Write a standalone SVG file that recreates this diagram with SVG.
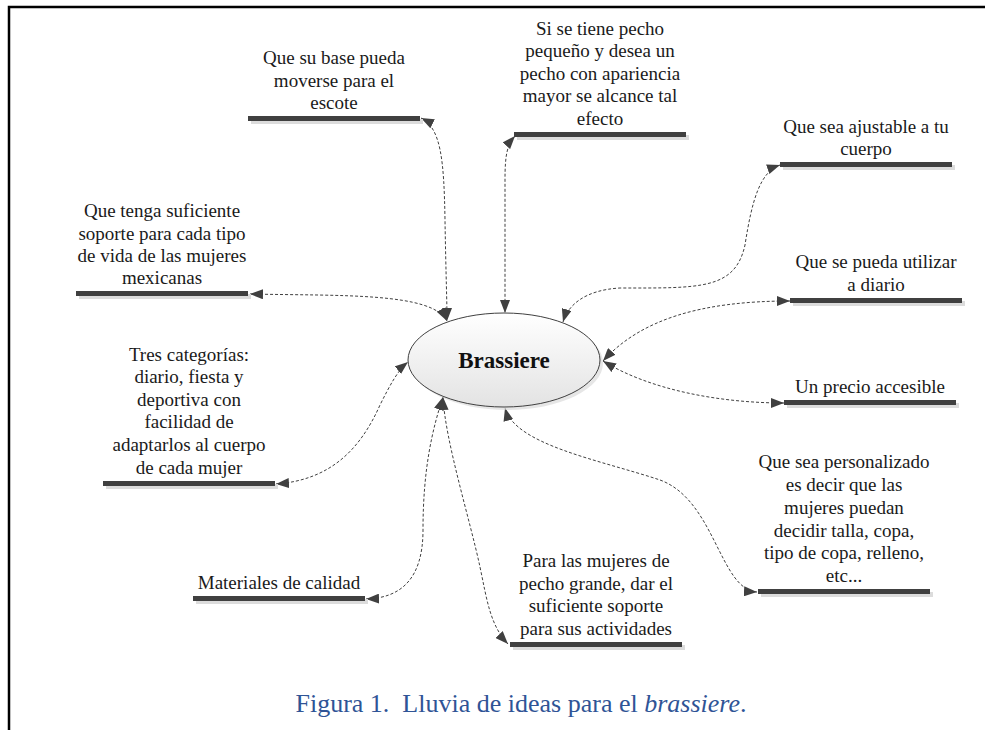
<svg xmlns="http://www.w3.org/2000/svg" width="985" height="730" viewBox="0 0 985 730">
<style>
.t{font-family:"Liberation Serif","Times New Roman",serif;font-size:19px;fill:#1a1a1a;text-anchor:middle}
.bar{fill:#404040}
.sh{fill:#dcdcdc}
.c{fill:none;stroke:#404040;stroke-width:1;stroke-dasharray:3 2;marker-start:url(#ah);marker-end:url(#ah)}
.cap{font-family:"Liberation Serif","Times New Roman",serif;font-size:26px;fill:#2f5496;text-anchor:middle;white-space:pre}
</style>
<defs>
<marker id="ah" viewBox="0 0 13 10" refX="13" refY="5" markerWidth="13" markerHeight="10" markerUnits="userSpaceOnUse" orient="auto-start-reverse">
<path d="M0,0 L13,5 L0,10 z" fill="#404040"/>
</marker>
<linearGradient id="eg" x1="0" y1="0" x2="0" y2="1">
<stop offset="0" stop-color="#ffffff"/>
<stop offset="1" stop-color="#e3e3e3"/>
</linearGradient>
</defs>
<rect width="985" height="730" fill="#ffffff"/>
<path d="M9,730 L9,7 L985,7" fill="none" stroke="#000" stroke-width="2.5"/>

<g id="connectors">
<path class="c" d="M421,118 C441,128 444,160 445,220 C446,280 447,300 447,321"/>
<path class="c" d="M250,294 C340,296 432,292 447,321"/>
<path class="c" d="M515,136 C507,145 505,155 505,180 L505,313"/>
<path class="c" d="M780,165 C760,172 752,200 745,245 C735,290 700,288 620,288 C585,290 568,305 563,322"/>
<path class="c" d="M790,301 C700,301 640,320 603,361"/>
<path class="c" d="M784,403 C720,403 650,390 603,361"/>
<path class="c" d="M276,484 C330,480 360,450 380,405 C390,385 398,370 408,362"/>
<path class="c" d="M366,599 C400,598 423,580 423,530 C423,470 432,430 443,397"/>
<path class="c" d="M508,644 C490,625 487,600 480,567 C470,520 445,440 443,397"/>
<path class="c" d="M757,592 C720,590 715,500 660,480 C600,460 515,445 505,408"/>
</g>

<g id="brassiere">
<ellipse cx="507" cy="363" rx="96" ry="47" fill="#d5d5d5" opacity="0.6"/>
<ellipse cx="504" cy="360" rx="96" ry="47" fill="url(#eg)" stroke="#404040" stroke-width="1"/>
<text x="504" y="368" style="font-family:'Liberation Serif','Times New Roman',serif;font-size:23px;font-weight:bold;fill:#111;text-anchor:middle">Brassiere</text>
</g>

<g id="n1">
<rect class="sh" x="251" y="119" width="172" height="5"/><rect class="bar" x="248" y="116" width="172" height="5"/>
<text class="t" x="334" y="64">Que su base pueda</text>
<text class="t" x="334" y="87">moverse para el</text>
<text class="t" x="334" y="109">escote</text>
</g>

<g id="n2">
<rect class="sh" x="517" y="135" width="172" height="5"/><rect class="bar" x="514" y="132" width="172" height="5"/>
<text class="t" x="600" y="35">Si se tiene pecho</text>
<text class="t" x="600" y="57">pequeño y desea un</text>
<text class="t" x="600" y="80">pecho con apariencia</text>
<text class="t" x="600" y="102">mayor se alcance tal</text>
<text class="t" x="600" y="125">efecto</text>
</g>

<g id="n3">
<rect class="sh" x="783" y="165" width="172" height="5"/><rect class="bar" x="780" y="162" width="172" height="5"/>
<text class="t" x="866" y="133">Que sea ajustable a tu</text>
<text class="t" x="866" y="155">cuerpo</text>
</g>

<g id="n4">
<rect class="sh" x="79" y="294" width="172" height="5"/><rect class="bar" x="76" y="291" width="172" height="5"/>
<text class="t" x="162" y="217">Que tenga suficiente</text>
<text class="t" x="162" y="240">soporte para cada tipo</text>
<text class="t" x="162" y="262">de vida de las mujeres</text>
<text class="t" x="162" y="284">mexicanas</text>
</g>

<g id="n5">
<rect class="sh" x="793" y="301" width="172" height="5"/><rect class="bar" x="790" y="298" width="172" height="5"/>
<text class="t" x="876" y="268">Que se pueda utilizar</text>
<text class="t" x="876" y="291">a diario</text>
</g>

<g id="n6">
<rect class="sh" x="106" y="484" width="172" height="5"/><rect class="bar" x="103" y="481" width="172" height="5"/>
<text class="t" x="189" y="361">Tres categorías:</text>
<text class="t" x="189" y="383">diario, fiesta y</text>
<text class="t" x="189" y="406">deportiva con</text>
<text class="t" x="189" y="428">facilidad de</text>
<text class="t" x="189" y="451">adaptarlos al cuerpo</text>
<text class="t" x="189" y="474">de cada mujer</text>
</g>

<g id="n7">
<rect class="sh" x="787" y="403" width="172" height="5"/><rect class="bar" x="784" y="400" width="172" height="5"/>
<text class="t" x="870" y="393">Un precio accesible</text>
</g>

<g id="n8">
<rect class="sh" x="761" y="592" width="172" height="5"/><rect class="bar" x="758" y="589" width="172" height="5"/>
<text class="t" x="844" y="468">Que sea personalizado</text>
<text class="t" x="844" y="491">es decir que las</text>
<text class="t" x="844" y="514">mujeres puedan</text>
<text class="t" x="844" y="537">decidir talla, copa,</text>
<text class="t" x="844" y="559">tipo de copa, relleno,</text>
<text class="t" x="844" y="582">etc...</text>
</g>

<g id="n9">
<rect class="sh" x="196" y="599" width="172" height="5"/><rect class="bar" x="193" y="596" width="172" height="5"/>
<text class="t" x="279" y="589">Materiales de calidad</text>
</g>

<g id="n10">
<rect class="sh" x="513" y="645" width="172" height="5"/><rect class="bar" x="510" y="642" width="172" height="5"/>
<text class="t" x="596" y="567">Para las mujeres de</text>
<text class="t" x="596" y="590">pecho grande, dar el</text>
<text class="t" x="596" y="612">suficiente soporte</text>
<text class="t" x="596" y="635">para sus actividades</text>
</g>

<text class="cap" x="521" y="712">Figura 1.&#160; Lluvia de ideas para el <tspan font-style="italic">brassiere</tspan>.</text>
</svg>
